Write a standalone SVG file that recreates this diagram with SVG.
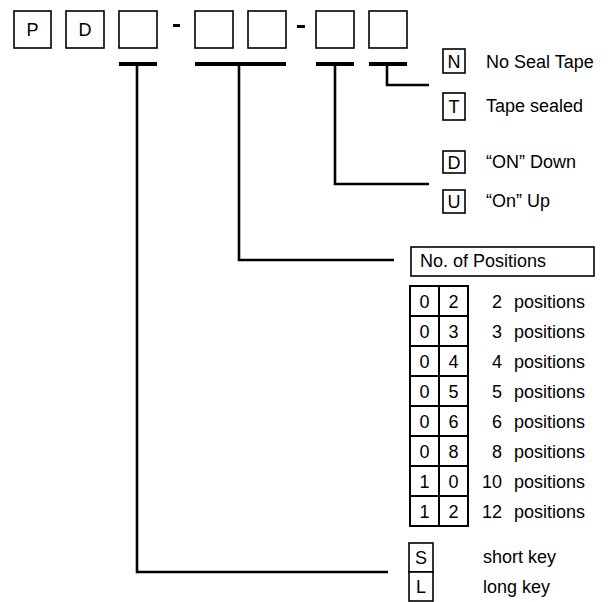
<svg xmlns="http://www.w3.org/2000/svg" width="610" height="602" viewBox="0 0 610 602">
<style>
.box{fill:#fff;stroke:#000;stroke-width:1.6}
.t{font-family:"Liberation Sans",Arial,Helvetica,sans-serif;font-size:18px;fill:#000}
.c{text-anchor:middle}
.e{text-anchor:end}
.bar{stroke:#000;stroke-width:4;fill:none}
.ln{stroke:#000;stroke-width:2.6;fill:none}
.gl{stroke:#000;stroke-width:2;fill:none}
</style>
<rect width="610" height="602" fill="#fff"/>
<g id="code">
  <g id="box-P"><rect class="box" x="14" y="11" width="37" height="37"/><text class="t c" x="32.5" y="36">P</text></g>
  <g id="box-D"><rect class="box" x="66" y="11" width="38" height="37"/><text class="t c" x="85" y="36">D</text></g>
  <g id="box-3"><rect class="box" x="119" y="11" width="38" height="37"/></g>
  <rect x="173" y="24" width="7" height="3" fill="#000"/>
  <g id="box-4"><rect class="box" x="195" y="11" width="38" height="37"/></g>
  <g id="box-5"><rect class="box" x="248" y="11" width="38" height="37"/></g>
  <rect x="297" y="25" width="8" height="3" fill="#000"/>
  <g id="box-6"><rect class="box" x="316" y="11" width="38" height="37"/></g>
  <g id="box-7"><rect class="box" x="369" y="11" width="38" height="37"/></g>
</g>
<g id="connectors">
  <path class="bar" d="M119 64H157M195 64H286M316 64H354M369 64H407"/>
  <path class="ln" d="M137 64V572H388"/>
  <path class="ln" d="M239 64V260H394"/>
  <path class="ln" d="M335 64V184H429"/>
  <path class="ln" d="M387 64V85H429"/>
</g>
<g id="seal">
  <g id="opt-N"><rect class="box" x="443" y="49" width="22" height="24"/><text class="t c" x="454" y="67.5">N</text><text class="t" x="486" y="68">No Seal Tape</text></g>
  <g id="opt-T"><rect class="box" x="443" y="93" width="22" height="27"/><text class="t c" x="454" y="113">T</text><text class="t" x="486" y="112">Tape sealed</text></g>
</g>
<g id="onoff">
  <g id="opt-D"><rect class="box" x="443" y="151" width="22" height="22"/><text class="t c" x="454" y="168.5">D</text><text class="t" x="486" y="168">“ON” Down</text></g>
  <g id="opt-U"><rect class="box" x="443" y="190" width="22" height="23"/><text class="t c" x="454" y="208">U</text><text class="t" x="486" y="207">“On” Up</text></g>
</g>
<g id="positions">
  <rect class="box" x="411" y="247" width="183" height="29"/>
  <text class="t" x="420" y="267">No. of Positions</text>
  <rect class="gl" x="410" y="286" width="58" height="240"/>
  <path class="gl" d="M439 286V526M410 316H468M410 346H468M410 376H468M410 406H468M410 436H468M410 466H468M410 496H468"/>
  <g class="t c">
    <text x="424.5" y="307.5">0</text><text x="453.5" y="307.5">2</text>
    <text x="424.5" y="337.5">0</text><text x="453.5" y="337.5">3</text>
    <text x="424.5" y="367.5">0</text><text x="453.5" y="367.5">4</text>
    <text x="424.5" y="397.5">0</text><text x="453.5" y="397.5">5</text>
    <text x="424.5" y="427.5">0</text><text x="453.5" y="427.5">6</text>
    <text x="424.5" y="457.5">0</text><text x="453.5" y="457.5">8</text>
    <text x="424.5" y="487.5">1</text><text x="453.5" y="487.5">0</text>
    <text x="424.5" y="517.5">1</text><text x="453.5" y="517.5">2</text>
  </g>
  <g class="t e">
    <text x="502" y="307.5">2</text>
    <text x="502" y="337.5">3</text>
    <text x="502" y="367.5">4</text>
    <text x="502" y="397.5">5</text>
    <text x="502" y="427.5">6</text>
    <text x="502" y="457.5">8</text>
    <text x="502" y="487.5">10</text>
    <text x="502" y="517.5">12</text>
  </g>
  <g class="t">
    <text x="514" y="307.5">positions</text>
    <text x="514" y="337.5">positions</text>
    <text x="514" y="367.5">positions</text>
    <text x="514" y="397.5">positions</text>
    <text x="514" y="427.5">positions</text>
    <text x="514" y="457.5">positions</text>
    <text x="514" y="487.5">positions</text>
    <text x="514" y="517.5">positions</text>
  </g>
</g>
<g id="key">
  <g id="opt-S"><rect class="box" x="409" y="543" width="24" height="29"/><text class="t c" x="421" y="564">S</text><text class="t" x="483" y="563">short key</text></g>
  <g id="opt-L"><rect class="box" x="409" y="572" width="24" height="29"/><text class="t c" x="421" y="593">L</text><text class="t" x="483" y="593">long key</text></g>
</g>
</svg>
